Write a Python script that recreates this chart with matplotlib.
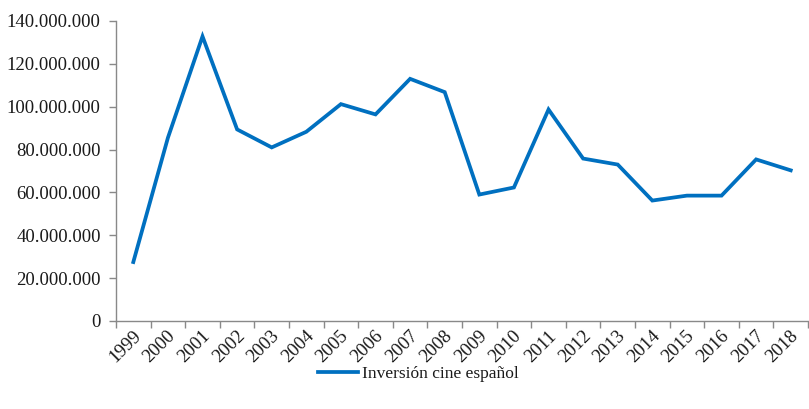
import matplotlib
matplotlib.use("Agg")
import matplotlib.pyplot as plt
import matplotlib.transforms as mtransforms
from matplotlib.ticker import FuncFormatter, FixedLocator
import numpy as np

years = ["1999", "2000", "2001", "2002", "2003", "2004", "2005", "2006", "2007", "2008",
         "2009", "2010", "2011", "2012", "2013", "2014", "2015", "2016", "2017", "2018"]
inversion = [27.5e6, 85.5e6, 132.8e6, 89.4e6, 81.0e6, 88.3e6, 101.2e6, 96.4e6, 113.0e6, 106.8e6,
             59.0e6, 62.3e6, 98.7e6, 75.8e6, 73.0e6, 56.2e6, 58.5e6, 58.5e6, 75.4e6, 70.3e6]
series_name = "Inversión cine español"

plt.rcParams["font.family"] = ["Liberation Serif", "DejaVu Serif"]

fig = plt.figure(figsize=(8.09, 4.09), dpi=100)
ax = fig.add_axes([0.1434, 0.2152, 0.8554, 0.7335])

x = np.arange(len(years))
line, = ax.plot(x, inversion, color="#0070C0", linewidth=2.7, solid_joinstyle="miter",
                label=series_name)

ax.set_xlim(-0.5, len(years) - 0.5)
ax.set_ylim(0, 140e6)
ax.set_yticks(np.arange(0, 140e6 + 1, 20e6))
ax.yaxis.set_major_formatter(FuncFormatter(lambda v, p: f"{int(v):,}".replace(",", ".")))

# category boundaries carry the tick marks, centres carry the labels
ax.xaxis.set_major_locator(FixedLocator(np.arange(-0.5, len(years), 1.0)))
ax.xaxis.set_major_formatter(FuncFormatter(lambda v, p: ""))
ax.set_xticks(x, minor=True)
ax.set_xticklabels(years, minor=True, rotation=45, ha="right", va="center",
                   rotation_mode="anchor", fontsize=13.5, color="#1a1a1a")
ax.tick_params(axis="x", which="minor", length=0, pad=9)
ax.tick_params(axis="x", which="major", length=5, color="#898989", width=1)
ax.tick_params(axis="y", length=5, color="#898989", width=1, labelsize=13.5, labelcolor="#1a1a1a", pad=6)

shift = mtransforms.ScaledTranslation(5 / 100, 0, fig.dpi_scale_trans)
for lbl in ax.get_xticklabels(minor=True):
    lbl.set_transform(lbl.get_transform() + shift)

for side in ("top", "right"):
    ax.spines[side].set_visible(False)
for side in ("left", "bottom"):
    ax.spines[side].set_color("#898989")
    ax.spines[side].set_linewidth(1)

fig.legend(handles=[line], loc="center", bbox_to_anchor=(0.517, 0.085), frameon=False,
           fontsize=12.5, handlelength=2.3, handletextpad=0.25, labelcolor="#1a1a1a")

fig.savefig("out.png", dpi=100)
